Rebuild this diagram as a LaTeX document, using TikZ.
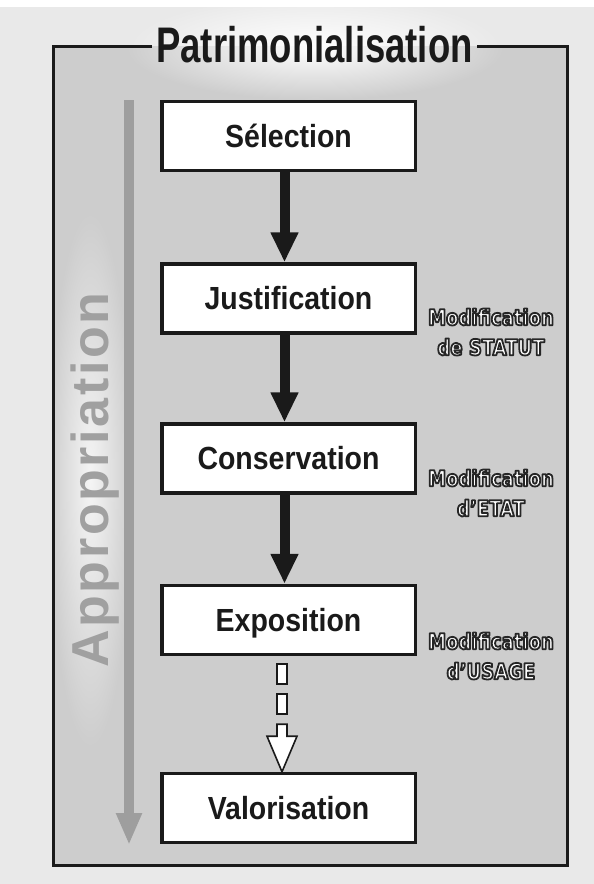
\documentclass[tikz,border=0pt]{standalone}
\usepackage{fontspec}
\setmainfont{Liberation Sans}
\newfontfamily\titlefont[FakeStretch=0.73]{Liberation Sans}
\newfontfamily\boxfont[FakeStretch=0.89]{Liberation Sans}
\newfontfamily\labfont[FakeStretch=0.82]{DejaVu Sans}
\newfontfamily\appfont[LetterSpace=5]{Liberation Sans}
\usetikzlibrary{arrows.meta,calc,fadings}
\definecolor{pagebg}{HTML}{E9E9E9}
\definecolor{framebg}{HTML}{CDCDCD}
\definecolor{ink}{HTML}{1A1A1A}
\definecolor{arrowgray}{HTML}{9E9E9E}
\definecolor{apptext}{HTML}{A0A0A0}
\tikzfading[name=glowfade, inner color=transparent!0, outer color=transparent!100]
\newcommand{\outlinedtext}[1]{\special{pdf:literal direct 2 Tr 1.8 w 1 j 0.15 G}#1\special{pdf:literal direct 0 Tr}}
\begin{document}
\begin{tikzpicture}[x=1pt,y=-1pt,
  stage/.style={draw=ink, line width=3.5pt, fill=white, minimum width=253.5pt, minimum height=69pt,
    inner sep=0pt, text height=22.9pt, text depth=0pt,
    font=\boxfont\bfseries\fontsize{32}{32}\selectfont, text=ink},
  flow/.style={draw=ink, line width=10pt, -{Triangle[width=26pt,length=30pt]}},
  hollow/.style={draw=ink, line width=1.6pt, fill=white, line join=miter},
  framebox/.style={draw=ink, line width=3pt, line join=miter},
  note/.style={align=center, text=white, inner sep=0pt,
    font=\labfont\bfseries\fontsize{22}{30}\selectfont}]

\useasboundingbox (0,0) rectangle (594,884);
\fill[pagebg] (0,0) rectangle (594,884);
\fill[white] (0,0) rectangle (594,7);
\fill[framebg] (53,46) rectangle (567,865);
\fill[white, path fading=glowfade] (125,-5) rectangle (505,100);
\fill[white, opacity=0.8, path fading=glowfade] (48,210) rectangle (132,750);

% Appropriation arrow and text
\coordinate (gtop) at (129,100);
\coordinate (gbot) at (129,845);
\draw[arrowgray, line width=9.5pt, -{Triangle[width=24pt,length=32pt]}] (gtop) -- (gbot);
\node[rotate=90, anchor=base, text=apptext, inner sep=0pt,
  font=\appfont\bfseries\fontsize{52}{52}\selectfont] (app) at (108,480) {Appropriation};

% title and frame
\node[anchor=base, font=\titlefont\bfseries\fontsize{50}{50}\selectfont, text=ink,
  inner xsep=4pt, inner ysep=0pt] (title) at (314.5,62) {Patrimonialisation};
\coordinate (tl) at (53,46);
\coordinate (bl) at (53,865);
\coordinate (br) at (567,865);
\coordinate (tr) at (567,46);
\draw[framebox] (title.west |- tl) -- (tl) -- (bl) -- (br) -- (tr) -- (title.east |- tr);

% stages
\node[stage] (sel) at (288.5,136) {Sélection};
\node[stage] (jus) at (288.5,298.5) {Justification};
\node[stage] (con) at (288.5,458.5) {Conservation};
\node[stage] (exp) at (288.5,620) {Exposition};
\node[stage] (val) at (288.5,808) {Valorisation};

\draw[flow] ([xshift=-4pt]sel.south) -- ([xshift=-4pt]jus.north);
\draw[flow] ([xshift=-4pt]jus.south) -- ([xshift=-4pt]con.north);
\draw[flow] ([xshift=-4pt]con.south) -- ([xshift=-4pt]exp.north);

% dashed hollow arrow
\coordinate (ds) at ([xshift=-6.5pt]exp.south);
\coordinate (dt) at ([xshift=-6.5pt]val.north);
\draw[hollow] ($(ds)+(-5,8)$) rectangle ($(ds)+(5,28)$);
\draw[hollow] ($(ds)+(-5,38)$) rectangle ($(ds)+(5,58)$);
\draw[hollow] ($(ds)+(-5,68)$) -- ($(ds)+(-5,80)$) -- ($(ds)+(-15,80)$) -- (dt)
  -- ($(ds)+(15,80)$) -- ($(ds)+(5,80)$) -- ($(ds)+(5,68)$) -- cycle;

% side notes
\node[note] (lab1) at (491,332) {\outlinedtext{Modification\\de STATUT}};
\node[note] (lab2) at (491,493) {\outlinedtext{Modification\\d’ETAT}};
\node[note] (lab3) at (491,656) {\outlinedtext{Modification\\d’USAGE}};
\end{tikzpicture}
\end{document}
